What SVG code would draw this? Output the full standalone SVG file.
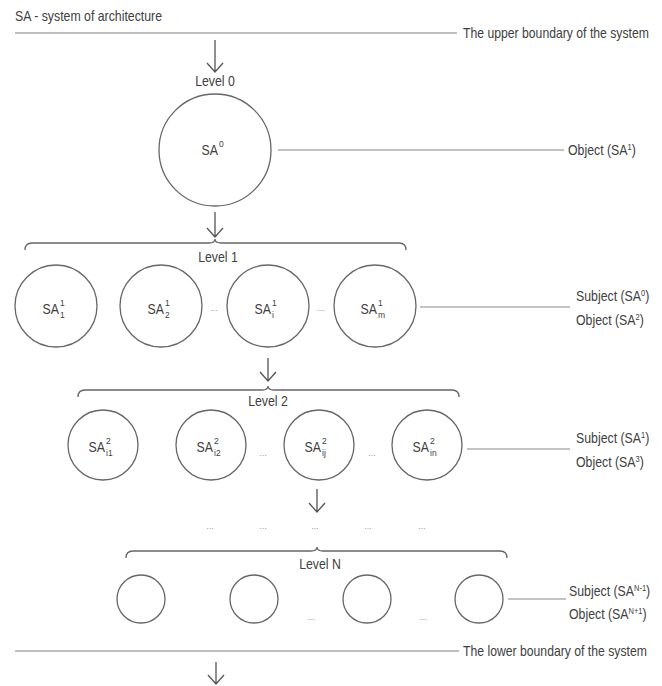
<svg xmlns="http://www.w3.org/2000/svg" width="662" height="686" viewBox="0 0 662 686">
<defs>
<style>
text{font-family:"Liberation Sans",Arial,sans-serif;fill:#404040;font-size:14px}
.lv{text-anchor:middle}
.sa{text-anchor:end}
.sp{font-size:8.5px}
.dot{font-size:9px;fill:#999;text-anchor:middle}
.node{fill:#fff;stroke:#666;stroke-width:1.3}
.bnd{stroke:#aaa;stroke-width:1.6;fill:none}
.con{stroke:#888;stroke-width:1.2;fill:none}
.arr{stroke:#555;stroke-width:1.3;fill:none}
.br{stroke:#666;stroke-width:1.3;fill:none}
</style>
</defs>
<rect width="662" height="686" fill="#fff"/>
<text transform="translate(15,21) scale(0.88,1)">SA - system of architecture</text>

<g id="connectors">
<line class="bnd" x1="15" y1="33" x2="457" y2="33"/>
<line class="bnd" x1="15" y1="651" x2="459" y2="651"/>
<path class="arr" d="M215 40V72M207 63L215 72L223 63"/>
<path class="arr" d="M215 212V237M207 228L215 237L223 228"/>
<path class="arr" d="M268 358V381M260 372L268 381L276 372"/>
<path class="arr" d="M317 489V512M309 503L317 512L325 503"/>
<path class="arr" d="M216 662V684M208 675L216 684L224 675"/>
<path class="br" d="M25 250Q25 243 32 243L209 243Q215 243 215 239Q215 243 221 243L399 243Q406 243 406 250"/>
<path class="br" d="M78 397Q78 390 85 390L262 390Q268 390 268 386Q268 390 274 390L452 390Q459 390 459 397"/>
<path class="br" d="M126 558Q126 551 133 551L311 551Q317 551 317 547Q317 551 323 551L500 551Q507 551 507 558"/>
<line class="con" x1="278" y1="150" x2="564" y2="150"/>
<line class="con" x1="420" y1="307" x2="570" y2="307"/>
<line class="con" x1="467" y1="449" x2="570" y2="449"/>
<line class="con" x1="508" y1="599" x2="566" y2="599"/>
</g>

<text transform="translate(463,38) scale(0.873,1)">The upper boundary of the system</text>
<text transform="translate(463,656) scale(0.873,1)">The lower boundary of the system</text>
<text class="lv" transform="translate(215,86) scale(0.88,1)">Level 0</text>
<text class="lv" transform="translate(218,262) scale(0.88,1)">Level 1</text>
<text class="lv" transform="translate(268,406) scale(0.88,1)">Level 2</text>
<text class="lv" transform="translate(320,569) scale(0.88,1)">Level N</text>

<g id="sa0">
<circle class="node" cx="215" cy="150" r="56"/>
<text class="sa" transform="translate(218,155) scale(0.88,1)">SA</text><text class="sp" x="219" y="147">0</text>
</g>
<text transform="translate(568,155) scale(0.88,1)">Object (SA<tspan class="sp" dy="-5">1</tspan><tspan dy="5">)</tspan></text>

<g id="sa1-1">
<circle class="node" cx="56" cy="306" r="41"/>
<text class="sa" transform="translate(59,314) scale(0.88,1)">SA</text><text class="sp" x="60" y="306">1</text><text class="sp" x="60" y="318">1</text>
</g>
<g id="sa1-2">
<circle class="node" cx="161" cy="306" r="41"/>
<text class="sa" transform="translate(164,314) scale(0.88,1)">SA</text><text class="sp" x="165" y="306">1</text><text class="sp" x="165" y="318">2</text>
</g>
<g id="sa1-i">
<circle class="node" cx="268" cy="306" r="41"/>
<text class="sa" transform="translate(271,314) scale(0.88,1)">SA</text><text class="sp" x="272" y="306">1</text><text class="sp" x="272" y="318">i</text>
</g>
<g id="sa1-m">
<circle class="node" cx="375" cy="306" r="41"/>
<text class="sa" transform="translate(377,314) scale(0.88,1)">SA</text><text class="sp" x="378" y="306">1</text><text class="sp" x="378" y="318">m</text>
</g>
<text class="dot" x="214" y="311">...</text>
<text class="dot" x="321" y="311">...</text>
<text transform="translate(576,301) scale(0.88,1)">Subject (SA<tspan class="sp" dy="-5">0</tspan><tspan dy="5">)</tspan></text>
<text transform="translate(576,325) scale(0.88,1)">Object (SA<tspan class="sp" dy="-5">2</tspan><tspan dy="5">)</tspan></text>

<g id="sa2-i1">
<circle class="node" cx="103" cy="445" r="35"/>
<text class="sa" transform="translate(105,452) scale(0.88,1)">SA</text><text class="sp" x="106" y="444">2</text><text class="sp" x="106" y="456">i1</text>
</g>
<g id="sa2-i2">
<circle class="node" cx="211" cy="445" r="35"/>
<text class="sa" transform="translate(213,452) scale(0.88,1)">SA</text><text class="sp" x="214" y="444">2</text><text class="sp" x="214" y="456">i2</text>
</g>
<g id="sa2-ij">
<circle class="node" cx="319" cy="445" r="35"/>
<text class="sa" transform="translate(321,452) scale(0.88,1)">SA</text><text class="sp" x="322" y="444">2</text><text class="sp" x="322" y="456">ij</text>
</g>
<g id="sa2-in">
<circle class="node" cx="427" cy="445" r="35"/>
<text class="sa" transform="translate(429,452) scale(0.88,1)">SA</text><text class="sp" x="430" y="444">2</text><text class="sp" x="430" y="456">in</text>
</g>
<text class="dot" x="263" y="456">...</text>
<text class="dot" x="372" y="456">...</text>
<text transform="translate(576,443) scale(0.88,1)">Subject (SA<tspan class="sp" dy="-5">1</tspan><tspan dy="5">)</tspan></text>
<text transform="translate(576,467) scale(0.88,1)">Object (SA<tspan class="sp" dy="-5">3</tspan><tspan dy="5">)</tspan></text>

<text class="dot" x="210" y="529">...</text>
<text class="dot" x="263" y="529">...</text>
<text class="dot" x="315" y="529">...</text>
<text class="dot" x="368" y="529">...</text>
<text class="dot" x="422" y="529">...</text>

<g id="saN-1"><circle class="node" cx="141" cy="599" r="24"/></g>
<g id="saN-2"><circle class="node" cx="254" cy="599" r="24"/></g>
<g id="saN-3"><circle class="node" cx="367" cy="599" r="24"/></g>
<g id="saN-4"><circle class="node" cx="479" cy="599" r="24"/></g>
<text class="dot" x="311" y="620">...</text>
<text class="dot" x="423" y="620">...</text>
<text transform="translate(569,596) scale(0.88,1)">Subject (SA<tspan class="sp" dy="-5">N-1</tspan><tspan dy="5">)</tspan></text>
<text transform="translate(569,619) scale(0.88,1)">Object (SA<tspan class="sp" dy="-5">N+1</tspan><tspan dy="5">)</tspan></text>
</svg>
